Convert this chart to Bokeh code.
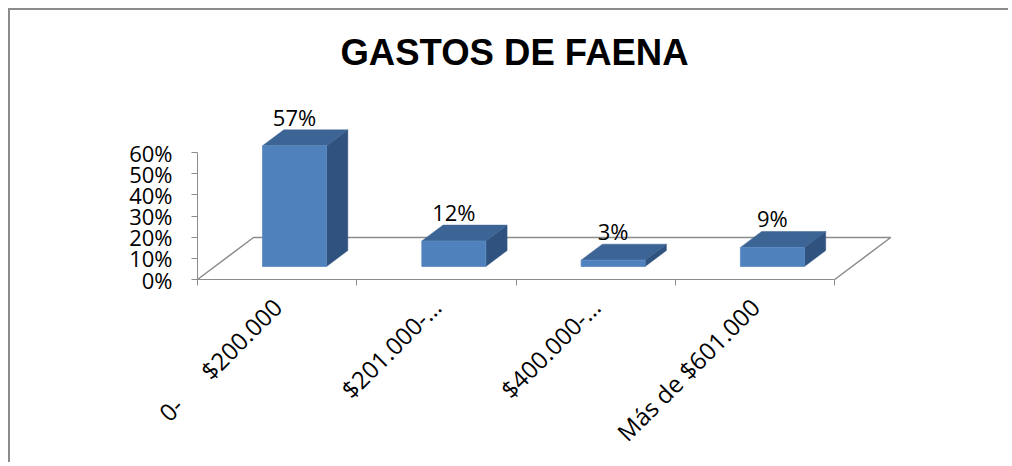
from math import pi
from bokeh.plotting import figure
from bokeh.models import Range1d, FixedTicker, NumeralTickFormatter, LinearAxis
from bokeh.embed import file_html
from bokeh.resources import INLINE
from bokeh.core.properties import value

# ---- data ----
categories = ["0-\u00a0\u00a0\u00a0\u00a0\u00a0\u00a0$200.000", "$201.000-\u2026", "$400.000-\u2026", "Más de $601.000"]
values = [0.57, 0.12, 0.03, 0.09]
value_labels = ["57%", "12%", "3%", "9%"]
y_ticks = [0, 0.1, 0.2, 0.3, 0.4, 0.5, 0.6]
title_text = "GASTOS DE FAENA"

# ---- layout constants (pixels) ----
MARGIN = 8
BORDER = 2
ORIGIN = MARGIN + BORDER                  # page position of canvas (0,0)
W, H = 1000, 454
ZERO_X = 197 - ORIGIN                     # canvas x of the vertical axis
ZERO_Y = 279 - ORIGIN                     # canvas y of the 0% front edge
PX_X = 159.3                              # px per category
PX_Y = 127 / 0.6                          # px per 100%

DX, DY = 56 / PX_X, 42 / PX_Y             # floor depth vector (data units)
F0, F1 = 0.31, 0.69                       # bar depth extent (fraction of floor depth)
BAR_W = 64 / PX_X

FRONT, TOP, SIDE = "#4f81bd", "#3c6595", "#30527f"
GRAY = "#8c8c8c"

p = figure(width=W, height=H, output_backend="svg", toolbar_location=None,
           x_range=Range1d(-ZERO_X / PX_X, (W - ZERO_X) / PX_X),
           y_range=Range1d(-(H - ZERO_Y) / PX_Y, ZERO_Y / PX_Y),
           min_border_left=0, min_border_right=0, min_border_top=0,
           min_border_bottom=0, x_axis_location=None, y_axis_location=None,
           outline_line_color=None, background_fill_color="white",
           border_fill_color="white",
           styles={"margin-left": f"{MARGIN}px", "margin-top": f"{MARGIN}px",
                   "border-left": f"{BORDER}px solid {GRAY}",
                   "border-top": f"{BORDER}px solid {GRAY}"})

n = len(categories)

# floor (left, back, right edges); front edge is the x axis line
p.line([0, DX, n + DX, n], [0, DY, DY, 0], line_color=GRAY, line_width=1.5)

# bars
lefts, rights, bottoms, tops = [], [], [], []
top_xs, top_ys, side_xs, side_ys = [], [], [], []
lab_x, lab_y = [], []
dd = F1 - F0
for i, v in enumerate(values):
    c = i + 0.5
    L = c - BAR_W / 2 + F0 * DX
    R = c + BAR_W / 2 + F0 * DX
    B = F0 * DY
    T = B + v
    lefts.append(L); rights.append(R); bottoms.append(B); tops.append(T)
    top_xs.append([L, R, R + dd * DX, L + dd * DX])
    top_ys.append([T, T, T + dd * DY, T + dd * DY])
    side_xs.append([R, R + dd * DX, R + dd * DX, R])
    side_ys.append([B, B + dd * DY, T + dd * DY, T])
    lab_x.append((L + R) / 2)
    lab_y.append(T + 29 / PX_Y)

p.patches(side_xs, side_ys, fill_color=SIDE, line_color=SIDE, line_width=0.5)
p.patches(top_xs, top_ys, fill_color=TOP, line_color=TOP, line_width=0.5)
p.quad(left=lefts, right=rights, bottom=bottoms, top=tops, fill_color=FRONT,
       line_color="#5a8ac4", line_width=0.8)

p.text(x=lab_x, y=lab_y, text=value_labels, text_align="center",
       text_baseline="alphabetic", text_font=value("Open Sans"),
       text_font_size="22px", text_color="black")

# title
title_cx, title_cy = 514 - ORIGIN, 52 - ORIGIN
p.text(x=[(title_cx - ZERO_X) / PX_X], y=[(ZERO_Y - title_cy) / PX_Y], text=[title_text],
       text_align="center", text_baseline="middle", text_font=value("Liberation Sans"),
       text_font_style="bold", text_font_size="36.5px", text_color="black")

# y axis (front-left vertical edge, fixed at x=0)
yaxis = LinearAxis(bounds=(0, 0.6), fixed_location=0,
                   ticker=FixedTicker(ticks=y_ticks, minor_ticks=[]),
                   formatter=NumeralTickFormatter(format="0%"))
yaxis.axis_line_color = GRAY
yaxis.major_tick_line_color = GRAY
yaxis.major_tick_in = 0
yaxis.major_tick_out = 6
yaxis.minor_tick_line_color = None
yaxis.major_label_standoff = 19
yaxis.major_label_text_font = "Open Sans"
yaxis.major_label_text_font_size = "22px"
yaxis.major_label_text_color = "black"
p.add_layout(yaxis, "left")

# x axis (front edge of the floor, fixed at 0%)
xaxis = LinearAxis(bounds=(0, n), fixed_location=0,
                   ticker=FixedTicker(ticks=[i + 0.5 for i in range(n)], minor_ticks=list(range(n + 1))),
                   major_label_overrides={i + 0.5: c for i, c in enumerate(categories)})
xaxis.axis_line_color = GRAY
xaxis.major_tick_line_color = None
xaxis.minor_tick_line_color = GRAY
xaxis.minor_tick_in = 0
xaxis.minor_tick_out = 6
xaxis.major_label_orientation = pi / 4
xaxis.major_label_standoff = 17
xaxis.major_label_text_font = "Open Sans"
xaxis.major_label_text_font_size = "24px"
xaxis.major_label_text_color = "black"
p.add_layout(xaxis, "below")

p.xgrid.visible = False
p.ygrid.visible = False

open("out.html", "w").write(file_html(p, INLINE))
